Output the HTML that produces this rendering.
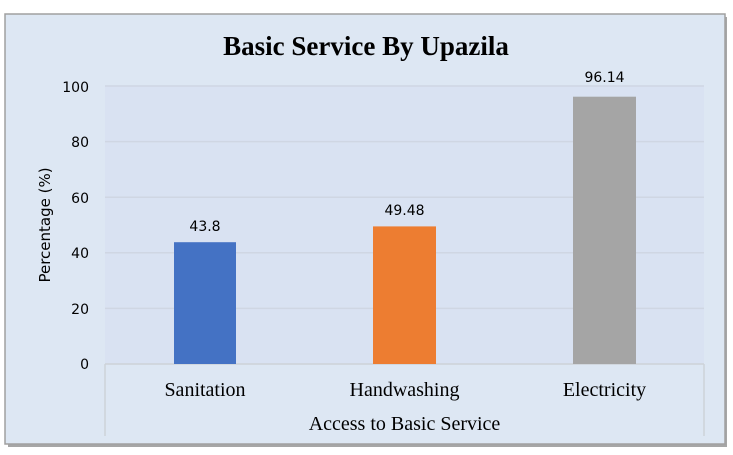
<!DOCTYPE html>
<html><head><meta charset="utf-8"><style>
html,body{margin:0;padding:0;background:#fff;}
svg{display:block}
</style></head><body>
<svg width="733" height="455" xmlns="http://www.w3.org/2000/svg">
<rect x="0" y="0" width="733" height="455" fill="#ffffff"/>
<rect x="8" y="17" width="719" height="430" fill="#a6a6a6"/>
<rect x="5" y="14" width="720" height="430" fill="#dde7f3" stroke="#a0a0a0" stroke-width="1.5"/>
<rect x="105" y="86" width="599" height="278" fill="#d9e2f2"/>
<g stroke="#cfd6e3" stroke-width="1.5">
<line x1="105" y1="86" x2="704" y2="86"/>
<line x1="105" y1="141.6" x2="704" y2="141.6"/>
<line x1="105" y1="197.2" x2="704" y2="197.2"/>
<line x1="105" y1="252.8" x2="704" y2="252.8"/>
<line x1="105" y1="308.4" x2="704" y2="308.4"/>
</g>
<g stroke="#cdd2d8" stroke-width="1.5" fill="none">
<line x1="105" y1="364" x2="704" y2="364"/>
<line x1="105" y1="364" x2="105" y2="436"/>
<line x1="704" y1="364" x2="704" y2="436"/>
</g>
<rect x="174" y="242.2" width="62" height="121.8" fill="#4472c4"/>
<rect x="373" y="226.4" width="63" height="137.6" fill="#ed7d31"/>
<rect x="573" y="96.7" width="63" height="267.3" fill="#a5a5a5"/>
<text x="366" y="55" text-anchor="middle" font-family="Liberation Serif, serif" font-weight="bold" font-size="27" fill="#000">Basic Service By Upazila</text>
<g font-family="DejaVu Sans, sans-serif" font-size="14" fill="#000" text-anchor="end">
<text x="89" y="92">100</text>
<text x="89" y="147">80</text>
<text x="89" y="203">60</text>
<text x="89" y="258">40</text>
<text x="89" y="314">20</text>
<text x="89" y="369">0</text>
</g>
<g font-family="DejaVu Sans, sans-serif" font-size="14" fill="#000" text-anchor="middle">
<text x="205" y="231">43.8</text>
<text x="404.5" y="215">49.48</text>
<text x="604.5" y="82">96.14</text>
<text transform="translate(50,225) rotate(-90)" font-size="15">Percentage (%)</text>
</g>
<g font-family="Liberation Serif, serif" font-size="20" fill="#000" text-anchor="middle">
<text x="205" y="396">Sanitation</text>
<text x="404.5" y="396">Handwashing</text>
<text x="604.5" y="396">Electricity</text>
<text x="404.5" y="430">Access to Basic Service</text>
</g>
</svg>
</body></html>
